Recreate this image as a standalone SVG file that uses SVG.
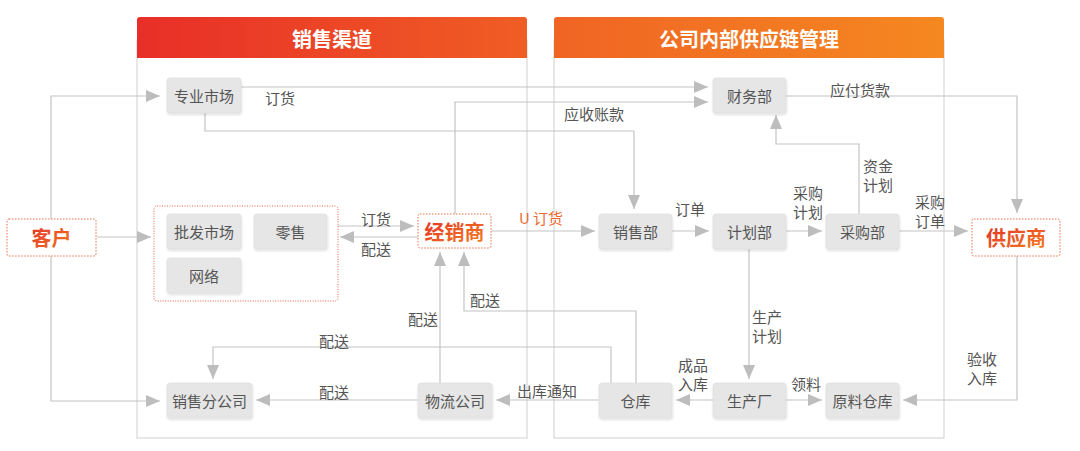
<svg xmlns="http://www.w3.org/2000/svg" width="1080" height="451" viewBox="0 0 1080 451">
<style>
text{font-family:"Noto Sans CJK SC","Noto Sans",sans-serif;dominant-baseline:central;text-anchor:middle}
.panel{fill:#fff;stroke:#cfcfcf;stroke-width:1}
.hdr{fill:#fff;font-size:20px;font-weight:bold}
.box{fill:#e6e6e6;stroke:#dcdcdc;stroke-width:0.6;filter:url(#sh)}
.nt{fill:#555;font-size:15px}
.key{fill:#fff;stroke:#e8704a;stroke-width:1;stroke-dasharray:1.5 1.5}
.kt{fill:url(#tg);font-size:20px;font-weight:bold}
.grp{fill:#fff;stroke:#e8604a;stroke-width:1;stroke-dasharray:1 1.5}
.ln{fill:none;stroke:#c4c4c4;stroke-width:1.2;marker-end:url(#ar)}
.lb{fill:#555;font-size:15px}
</style>
<defs>
<marker id="ar" viewBox="0 0 14 12" refX="14" refY="6" markerWidth="14" markerHeight="12" markerUnits="userSpaceOnUse" orient="auto">
<path d="M0,0 L14,6 L0,12 z" fill="#bdbdbd"/>
</marker>
<linearGradient id="g1" x1="0" y1="0" x2="1" y2="0"><stop offset="0" stop-color="#e82e28"/><stop offset="1" stop-color="#f05e24"/></linearGradient>
<linearGradient id="g2" x1="0" y1="0" x2="1" y2="0"><stop offset="0" stop-color="#f06424"/><stop offset="1" stop-color="#f58820"/></linearGradient>
<linearGradient id="tg" x1="0" y1="0" x2="1" y2="1"><stop offset="0" stop-color="#e2302a"/><stop offset="1" stop-color="#f5801e"/></linearGradient>
<filter id="sh" x="-10%" y="-10%" width="125%" height="135%"><feDropShadow dx="0.5" dy="1.5" stdDeviation="1" flood-color="#000" flood-opacity="0.15"/></filter>
</defs>

<g id="panel-sales">
<rect class="panel" x="137" y="40" width="390" height="398"/>
<path d="M137,58 V20 Q137,17 140,17 H524 Q527,17 527,20 V58 Z" fill="url(#g1)"/>
<text class="hdr" x="332" y="38">销售渠道</text>
</g>
<g id="panel-internal">
<rect class="panel" x="554" y="40" width="390" height="398"/>
<path d="M554,58 V20 Q554,17 557,17 H941 Q944,17 944,20 V58 Z" fill="url(#g2)"/>
<text class="hdr" x="749" y="38">公司内部供应链管理</text>
</g>

<g id="connectors">
<path class="ln" d="M51,219 V96 H160"/>
<path class="ln" d="M97,237 H151"/>
<path class="ln" d="M51,256 V401 H160"/>
<path class="ln" d="M241,87 H708"/>
<path class="ln" d="M455,214 V102 H708"/>
<path class="ln" d="M205,113 V131 H634 V209"/>
<path class="ln" d="M786,96 H1017 V213"/>
<path class="ln" d="M859,214 V144 H776 V115"/>
<path class="ln" d="M338,226 H414"/>
<path class="ln" d="M418,237 H340"/>
<path class="ln" d="M491,231 H595"/>
<path class="ln" d="M672,231 H709"/>
<path class="ln" d="M786,231 H822"/>
<path class="ln" d="M899,231 H968"/>
<path class="ln" d="M749,249 V379"/>
<path class="ln" d="M713,400 H676"/>
<path class="ln" d="M786,400 H822"/>
<path class="ln" d="M1017,256 V400 H903"/>
<path class="ln" d="M599,400 H496"/>
<path class="ln" d="M418,400 H256"/>
<path class="ln" d="M440,383 V252"/>
<path class="ln" d="M636,383 V311 H464 V252"/>
<path class="ln" d="M611,383 V347 H213 V379"/>
</g>

<g id="labels">
<text class="lb" x="280" y="97">订货</text>
<text class="lb" x="594" y="113">应收账款</text>
<text class="lb" x="860" y="89">应付货款</text>
<text class="lb" x="878" y="165">资金</text>
<text class="lb" x="878" y="184">计划</text>
<text class="lb" x="376" y="218">订货</text>
<text class="lb" x="376" y="248">配送</text>
<text class="lb" x="541" y="217" style="fill:#ec6a30">U 订货</text>
<text class="lb" x="690" y="208">订单</text>
<text class="lb" x="808" y="192">采购</text>
<text class="lb" x="808" y="211">计划</text>
<text class="lb" x="930" y="201">采购</text>
<text class="lb" x="930" y="220">订单</text>
<text class="lb" x="767" y="316">生产</text>
<text class="lb" x="767" y="335">计划</text>
<text class="lb" x="693" y="364">成品</text>
<text class="lb" x="693" y="383">入库</text>
<text class="lb" x="806" y="383">领料</text>
<text class="lb" x="982" y="358">验收</text>
<text class="lb" x="982" y="377">入库</text>
<text class="lb" x="547" y="390">出库通知</text>
<text class="lb" x="334" y="391">配送</text>
<text class="lb" x="423" y="318">配送</text>
<text class="lb" x="485" y="299">配送</text>
<text class="lb" x="334" y="340">配送</text>
</g>

<g id="group-retail"><rect class="grp" x="154" y="206" width="184" height="95" rx="3"/></g>

<g id="n-kehu"><rect class="key" x="7" y="219" width="89" height="37" rx="2"/><text class="kt" x="51.5" y="237.5">客户</text></g>
<g id="n-jingxiaoshang"><rect class="key" x="418" y="214" width="73" height="34" rx="2"/><text class="kt" x="454.5" y="231">经销商</text></g>
<g id="n-gongyingshang"><rect class="key" x="972" y="219" width="88" height="37" rx="2"/><text class="kt" x="1016" y="237.5">供应商</text></g>

<g id="n-zhuanye"><rect class="box" x="167" y="78" width="74" height="35" rx="3"/><text class="nt" x="204" y="95.5">专业市场</text></g>
<g id="n-caiwu"><rect class="box" x="713" y="78" width="73" height="35" rx="3"/><text class="nt" x="749.5" y="95.5">财务部</text></g>
<g id="n-pifa"><rect class="box" x="167" y="214" width="74" height="35" rx="3"/><text class="nt" x="204" y="231.5">批发市场</text></g>
<g id="n-lingshou"><rect class="box" x="254" y="214" width="73" height="35" rx="3"/><text class="nt" x="290.5" y="231.5">零售</text></g>
<g id="n-wangluo"><rect class="box" x="167" y="258" width="74" height="35" rx="3"/><text class="nt" x="204" y="275.5">网络</text></g>
<g id="n-xiaoshoubu"><rect class="box" x="599" y="214" width="73" height="35" rx="3"/><text class="nt" x="635.5" y="231.5">销售部</text></g>
<g id="n-jihuabu"><rect class="box" x="713" y="214" width="73" height="35" rx="3"/><text class="nt" x="749.5" y="231.5">计划部</text></g>
<g id="n-caigoubu"><rect class="box" x="826" y="214" width="73" height="35" rx="3"/><text class="nt" x="862.5" y="231.5">采购部</text></g>
<g id="n-cangku"><rect class="box" x="599" y="383" width="73" height="35" rx="3"/><text class="nt" x="635.5" y="400.5">仓库</text></g>
<g id="n-shengchanchang"><rect class="box" x="713" y="383" width="73" height="35" rx="3"/><text class="nt" x="749.5" y="400.5">生产厂</text></g>
<g id="n-yuanliao"><rect class="box" x="826" y="383" width="73" height="35" rx="3"/><text class="nt" x="862.5" y="400.5">原料仓库</text></g>
<g id="n-wuliu"><rect class="box" x="418" y="383" width="74" height="35" rx="3"/><text class="nt" x="455" y="400.5">物流公司</text></g>
<g id="n-fengongsi"><rect class="box" x="167" y="383" width="85" height="35" rx="3"/><text class="nt" x="209.5" y="400.5">销售分公司</text></g>
</svg>
